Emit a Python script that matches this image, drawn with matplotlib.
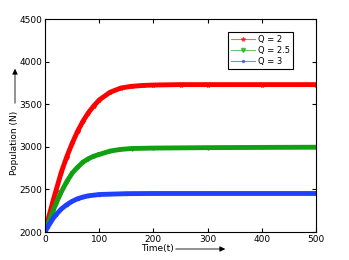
import matplotlib
matplotlib.use('Agg')
import matplotlib.pyplot as plt

# values
t_red = [0, 5, 10, 15, 20, 30, 40, 50, 60, 70, 80, 90, 100, 120, 140, 160, 180, 200, 250, 300, 400, 500]
q2 = [2000, 2130, 2250, 2370, 2480, 2700, 2880, 3040, 3180, 3300, 3400, 3480, 3550, 3640, 3690, 3710, 3720, 3725, 3730, 3730, 3730, 3730]

t_green = [0, 5, 10, 15, 20, 30, 40, 50, 60, 70, 80, 90, 100, 120, 140, 160, 200, 300, 400, 500]
q25 = [2000, 2090, 2170, 2250, 2330, 2470, 2590, 2690, 2760, 2820, 2860, 2890, 2910, 2950, 2970, 2980, 2985, 2990, 2993, 2995]

t_blue = [0, 5, 10, 15, 20, 30, 40, 50, 60, 70, 80, 100, 150, 200, 300, 500]
q3 = [2000, 2060, 2110, 2160, 2200, 2270, 2320, 2360, 2390, 2410, 2425, 2440, 2450, 2452, 2452, 2452]

fig = plt.figure(figsize=(3.49, 2.60), dpi=100)
ax = fig.add_axes([45 / 349, 28 / 260, 271 / 349, 213 / 260])

ax.plot(t_red, q2, color='red', lw=3.5, marker='*', ms=3, label='Q = 2')
ax.plot(t_green, q25, color='#10a010', lw=3.5, marker='v', ms=2.5, label='Q = 2.5')
ax.plot(t_blue, q3, color='#2040ff', lw=3.5, marker='.', ms=3, label='Q = 3')

ax.set_xlim(0, 500)
ax.set_ylim(2000, 4500)
ax.set_xticks([0, 100, 200, 300, 400, 500])
ax.set_yticks([2000, 2500, 3000, 3500, 4000, 4500])
ax.tick_params(direction='in', top=True, right=True, labelsize=6.5, length=3, pad=2)

leg = ax.legend(loc='upper right', bbox_to_anchor=(0.93, 0.96), fontsize=6,
                fancybox=False, edgecolor='black', framealpha=1,
                handlelength=2.8, handletextpad=0.4, labelspacing=0.25, borderpad=0.35)
leg.get_frame().set_linewidth(0.8)
for line in leg.get_lines():
    line.set_linewidth(0.8)
    line.set_alpha(0.6)
    line.set_markersize(3)

fig.text(15 / 349, 1 - 143 / 260, 'Population (N)', rotation=90, fontsize=6.5, ha='center', va='center')
fig.text(157 / 349, 11 / 260, 'Time(t)', fontsize=6.5, ha='center', va='center')

fig.patches.append(matplotlib.patches.FancyArrowPatch(
    (15 / 349, 1 - 106 / 260), (15 / 349, 1 - 66 / 260), transform=fig.transFigure,
    arrowstyle='-|>', mutation_scale=8, lw=0.6, color='black'))
fig.patches.append(matplotlib.patches.FancyArrowPatch(
    (173 / 349, 11 / 260), (228 / 349, 11 / 260), transform=fig.transFigure,
    arrowstyle='-|>', mutation_scale=8, lw=0.6, color='black'))

fig.savefig('out.png', dpi=100)
